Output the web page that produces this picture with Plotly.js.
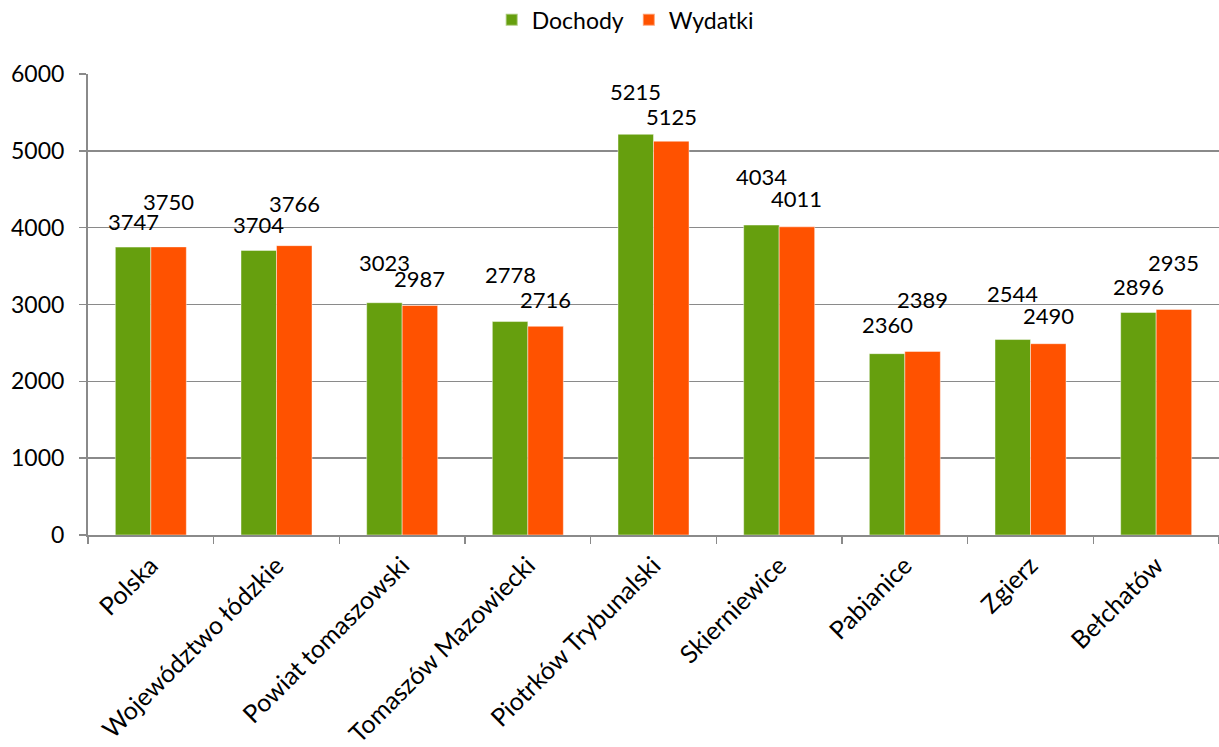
<!DOCTYPE html>
<html>
<head>
<meta charset="utf-8">
<script src="https://cdn.plot.ly/plotly-3.0.1.min.js"></script>
<style>
  html, body { margin: 0; padding: 0; background: #ffffff; }
  #chart { width: 1219px; height: 747px; }
</style>
</head>
<body>
<div id="chart"></div>
<script>
// ---- data ----
const categories = [
  "Polska",
  "Województwo łódzkie",
  "Powiat tomaszowski",
  "Tomaszów Mazowiecki",
  "Piotrków Trybunalski",
  "Skierniewice",
  "Pabianice",
  "Zgierz",
  "Bełchatów"
];
const dochody = [3747, 3704, 3023, 2778, 5215, 4034, 2360, 2544, 2896];
const wydatki = [3750, 3766, 2987, 2716, 5125, 4011, 2389, 2490, 2935];
const yTickValues = [0, 1000, 2000, 3000, 4000, 5000, 6000];

// ---- label styling (pixel lift of each data label above its bar top) ----
const dochodyLabelLift = [26, 26, 40, 47, 43, 49, 29, 46, 26];
const wydatkiLabelLift = [45, 42, 27, 27, 25, 28, 52, 28, 47];

const FONT = "Lato, 'Open Sans', sans-serif";
const GREEN = "#669F0E";
const ORANGE = "#FF5200";
const GRID = "#8A8A8A";
const BARGAP = 0.435;
const half = (1 - BARGAP) / 4; // centre offset of each bar within its category

const traces = [
  {
    type: "bar", name: "Dochody", x: categories, y: dochody,
    marker: { color: GREEN, line: { color: "rgba(255,255,255,0.45)", width: 1 } },
    hoverinfo: "x+y"
  },
  {
    type: "bar", name: "Wydatki", x: categories, y: wydatki,
    marker: { color: ORANGE, line: { color: "rgba(255,255,255,0.45)", width: 1 } },
    hoverinfo: "x+y"
  }
];

const annotations = [];
categories.forEach((c, i) => {
  annotations.push({
    x: i - half, y: dochody[i], xref: "x", yref: "y",
    text: String(dochody[i]), showarrow: false,
    yanchor: "middle", xanchor: "center", yshift: dochodyLabelLift[i],
    font: { family: FONT, size: 22, color: "#000000" }
  });
  annotations.push({
    x: i + half, y: wydatki[i], xref: "x", yref: "y",
    text: String(wydatki[i]), showarrow: false,
    yanchor: "middle", xanchor: "center", yshift: wydatkiLabelLift[i],
    font: { family: FONT, size: 22, color: "#000000" }
  });
});

const layout = {
  width: 1219, height: 747,
  margin: { l: 88, r: 0, t: 74, b: 212, pad: 0, autoexpand: false },
  paper_bgcolor: "#ffffff", plot_bgcolor: "#ffffff",
  barmode: "group", bargap: BARGAP, bargroupgap: 0,
  font: { family: FONT, size: 22, color: "#000000" },
  showlegend: true,
  legend: {
    orientation: "h", x: 0.475, xanchor: "center", xref: "paper",
    y: 1.164, yanchor: "top", yref: "paper",
    font: { family: FONT, size: 23, color: "#000000" },
    itemwidth: 30, itemsizing: "constant", traceorder: "normal"
  },
  xaxis: {
    type: "category",
    tickangle: -45,
    tickson: "boundaries",
    ticks: "outside", ticklen: 7, tickcolor: GRID, tickwidth: 1.5,
    ticklabelstandoff: 4,
    showline: true, linecolor: GRID, linewidth: 2,
    showgrid: false, zeroline: false,
    tickfont: { family: FONT, size: 25, color: "#000000" },
    fixedrange: true
  },
  yaxis: {
    range: [0, 6000],
    tickvals: yTickValues,
    ticktext: yTickValues.map(String),
    ticks: "outside", ticklen: 7, tickcolor: GRID, tickwidth: 1.5,
    ticklabelstandoff: 10,
    showline: true, linecolor: GRID, linewidth: 2,
    showgrid: true, gridcolor: GRID, gridwidth: 1.5,
    zeroline: false,
    tickfont: { family: FONT, size: 23, color: "#000000" },
    fixedrange: true
  },
  annotations: annotations
};

Plotly.newPlot("chart", traces, layout, { displayModeBar: false, staticPlot: true });
</script>
</body>
</html>
